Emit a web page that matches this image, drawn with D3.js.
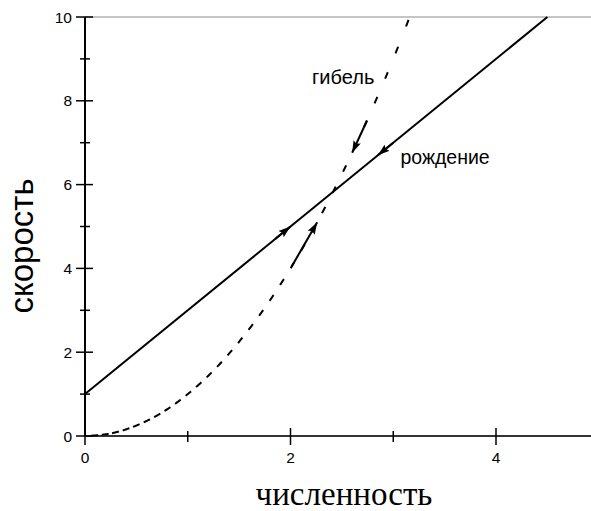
<!DOCTYPE html>
<html>
<head>
<meta charset="utf-8">
<script src="https://cdn.jsdelivr.net/npm/d3@7"></script>
<style>
  body { margin: 0; background: #fff; }
  svg { display: block; }
</style>
</head>
<body>
<div id="chart"></div>
<script>
// tick values
var xMajor = [0, 2, 4],
    xMinor = [1, 3],
    yMajor = [0, 2, 4, 6, 8, 10],
    yMinor = [1, 3, 5, 7, 9];

// birth line (solid)
var birthX = [0, 4.5],
    birthY = [1, 10];

// death curve (dashed)
var deathX = [0, 0.25, 0.5, 0.75, 1, 1.25, 1.5, 1.75, 2, 2.25, 2.5, 2.75, 3, 3.16],
    deathY = [0, 0.06, 0.25, 0.56, 1, 1.56, 2.25, 3.06, 4, 5.06, 6.25, 7.56, 9, 10];

// arrows: [from x, from y, to x, to y]
var birthArrows = [[1.85, 4.7, 2.0, 5.0], [3.0, 7.0, 2.85, 6.7]];
var deathArrows = [[2.01, 4.04, 2.26, 5.1], [2.745, 7.53, 2.6, 6.76]];

var labels = ["гибель", "рождение"];
var labelPos = [[2.21, 8.4], [3.07, 6.5]];
var labelSize = [20, 19.5];

var W = 591, H = 511;

var svg = d3.select("#chart")
  .append("svg")
  .attr("width", W)
  .attr("height", H);

var x = d3.scaleLinear().domain([0, 5]).range([85, 85 + 5 * 102.75]);
var y = d3.scaleLinear().domain([0, 10]).range([436, 17]);

svg.append("defs").append("marker")
    .attr("id", "arr")
    .attr("viewBox", "0 0 12 8")
    .attr("refX", 12)
    .attr("refY", 4)
    .attr("markerUnits", "userSpaceOnUse")
    .attr("markerWidth", 12)
    .attr("markerHeight", 8)
    .attr("orient", "auto")
  .append("path")
    .attr("d", "M0,0L12,4L0,8L2,4Z")
    .attr("fill", "#000");

// top frame line
svg.append("line")
    .attr("x1", x(0)).attr("x2", W)
    .attr("y1", y(10)).attr("y2", y(10))
    .attr("stroke", "#8a8a8a")
    .attr("stroke-width", 1);

// axes
svg.append("line")
    .attr("x1", x(0)).attr("x2", x(0))
    .attr("y1", y(10)).attr("y2", y(0))
    .attr("stroke", "#000").attr("stroke-width", 2);
svg.append("line")
    .attr("x1", x(0)).attr("x2", W)
    .attr("y1", y(0)).attr("y2", y(0))
    .attr("stroke", "#333").attr("stroke-width", 2);

svg.selectAll(".ymaj").data(yMajor).enter().append("line")
    .attr("x1", x(0) - 9).attr("x2", x(0) + 8)
    .attr("y1", function(d) { return y(d); })
    .attr("y2", function(d) { return y(d); })
    .attr("stroke", "#000").attr("stroke-width", 1.5);
svg.selectAll(".ymin").data(yMinor).enter().append("line")
    .attr("x1", x(0) - 5).attr("x2", x(0) + 5)
    .attr("y1", function(d) { return y(d); })
    .attr("y2", function(d) { return y(d); })
    .attr("stroke", "#000").attr("stroke-width", 1.5);
svg.selectAll(".xmaj").data(xMajor).enter().append("line")
    .attr("x1", function(d) { return x(d); })
    .attr("x2", function(d) { return x(d); })
    .attr("y1", y(0) - 8).attr("y2", y(0) + 9)
    .attr("stroke", "#000").attr("stroke-width", 1.5);
svg.selectAll(".xmin").data(xMinor).enter().append("line")
    .attr("x1", function(d) { return x(d); })
    .attr("x2", function(d) { return x(d); })
    .attr("y1", y(0) - 5).attr("y2", y(0) + 6)
    .attr("stroke", "#000").attr("stroke-width", 1.5);

svg.selectAll(".ylab").data(yMajor).enter().append("text")
    .attr("x", x(0) - 13)
    .attr("y", function(d) { return y(d) + 5.5; })
    .attr("text-anchor", "end")
    .style("font", "15.5px Arial, 'Liberation Sans', sans-serif")
    .text(function(d) { return d; });
svg.selectAll(".xlab").data(xMajor).enter().append("text")
    .attr("x", function(d) { return x(d); })
    .attr("y", y(0) + 27)
    .attr("text-anchor", "middle")
    .style("font", "15.5px Arial, 'Liberation Sans', sans-serif")
    .text(function(d) { return d; });

// curves
var line = d3.line()
  .x(function(d) { return x(d[0]); })
  .y(function(d) { return y(d[1]); });

svg.append("path")
    .datum(d3.zip(birthX, birthY))
    .attr("d", line)
    .attr("fill", "none")
    .attr("stroke", "#000")
    .attr("stroke-width", 2);

// the dashed curve: dashes sit at a fixed step in x, each one ~7px long
var guide = svg.append("path")
    .datum(d3.zip(deathX, deathY))
    .attr("d", line.curve(d3.curveMonotoneX))
    .attr("fill", "none")
    .attr("stroke", "none");

var node = guide.node(),
    total = node.getTotalLength(),
    step = 10.5, dashLen = 7,
    nextX = x(0) + 6,
    dashes = [];
for (var L = 0; L < total; L += 0.25) {
  var p = node.getPointAtLength(L);
  if (p.x >= nextX) {
    var pts = [];
    for (var k = L; k <= Math.min(L + dashLen, total); k += 1) {
      var q = node.getPointAtLength(k);
      pts.push([q.x, q.y]);
    }
    dashes.push(pts);
    nextX += step;
  }
}

svg.selectAll(".dash").data(dashes).enter().append("path")
    .attr("d", d3.line())
    .attr("fill", "none")
    .attr("stroke", "#000")
    .attr("stroke-width", 2);

// arrows
svg.selectAll(".arr").data(birthArrows.concat(deathArrows)).enter().append("line")
    .attr("x1", function(d) { return x(d[0]); })
    .attr("y1", function(d) { return y(d[1]); })
    .attr("x2", function(d) { return x(d[2]); })
    .attr("y2", function(d) { return y(d[3]); })
    .attr("stroke", "#000")
    .attr("stroke-width", 2)
    .attr("marker-end", "url(#arr)");

svg.selectAll(".lbl").data(labels).enter().append("text")
    .attr("x", function(d, i) { return x(labelPos[i][0]); })
    .attr("y", function(d, i) { return y(labelPos[i][1]); })
    .style("font-family", "Arial, 'Liberation Sans', sans-serif")
    .style("font-size", function(d, i) { return labelSize[i] + "px"; })
    .text(function(d) { return d; });

// axis titles
svg.append("text")
    .attr("x", 344).attr("y", 505)
    .attr("text-anchor", "middle")
    .style("font", "33px 'Times New Roman', 'Liberation Serif', serif")
    .text("численность");

svg.append("text")
    .attr("transform", "translate(33,246)rotate(-90)")
    .attr("text-anchor", "middle")
    .style("font", "33px Arial, 'Liberation Sans', sans-serif")
    .text("скорость");
</script>
</body>
</html>
